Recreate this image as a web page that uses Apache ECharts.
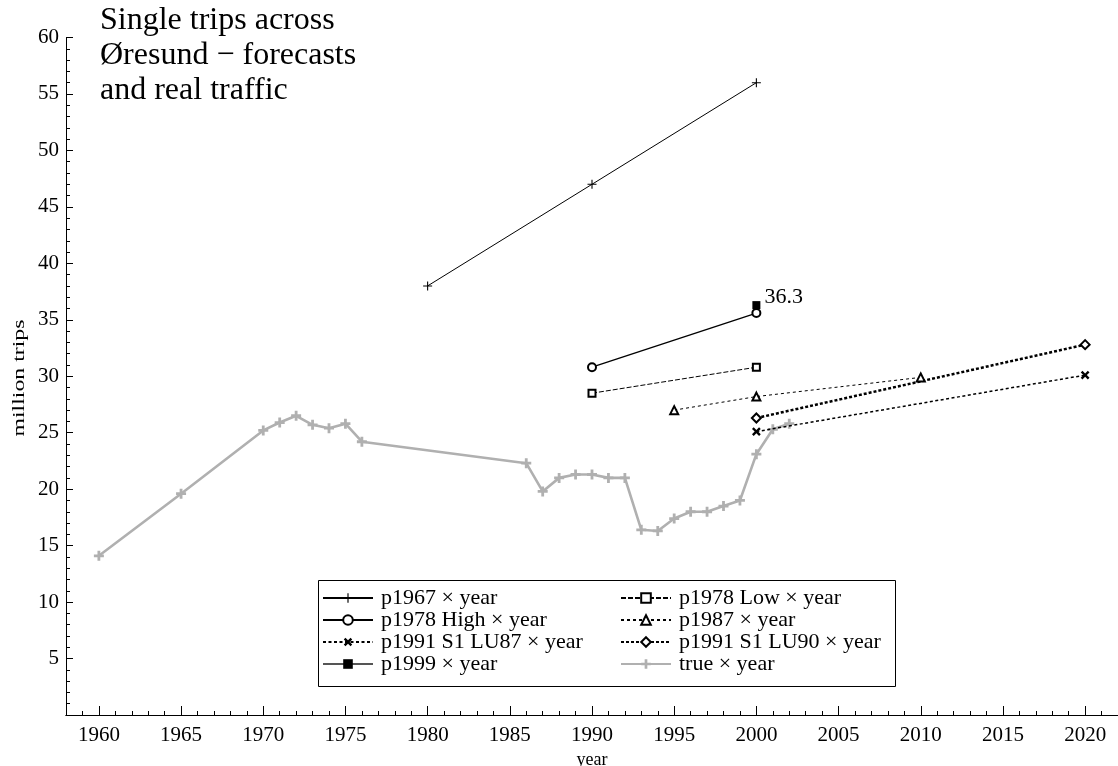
<!DOCTYPE html>
<html>
<head>
<meta charset="utf-8">
<script src="https://cdn.jsdelivr.net/npm/echarts@6/dist/echarts.min.js"></script>
<style>
html,body{margin:0;padding:0;background:#fff;}
#chart{width:1118px;height:766px;}
</style>
</head>
<body>
<div id="chart"></div>
<script>
// ---- data ----
const p1967Years = [1980, 1990, 2000];
const p1967Values = [38.0, 47.0, 56.0];
const p1978HighYears = [1990, 2000];
const p1978HighValues = [30.8, 35.6];
const p1978LowYears = [1990, 2000];
const p1978LowValues = [28.5, 30.8];
const p1987Years = [1995, 2000, 2010];
const p1987Values = [27.0, 28.2, 29.9];
const p1991LU87Years = [2000, 2020];
const p1991LU87Values = [25.1, 30.1];
const p1991LU90Years = [2000, 2020];
const p1991LU90Values = [26.3, 32.8];
const p1999Years = [2000];
const p1999Values = [36.3];
const trueYears = [1960, 1965, 1970, 1971, 1972, 1973, 1974, 1975, 1976, 1986, 1987, 1988, 1989, 1990, 1991, 1992, 1993, 1994, 1995, 1996, 1997, 1998, 1999, 2000, 2001, 2002];
const trueValues = [14.1, 19.6, 25.2, 25.9, 26.5, 25.7, 25.4, 25.8, 24.2, 22.3, 19.8, 21.0, 21.3, 21.3, 21.0, 21.0, 16.4, 16.3, 17.4, 18.0, 18.0, 18.5, 19.0, 23.1, 25.3, 25.8];
const xMajorTicks = [1960, 1965, 1970, 1975, 1980, 1985, 1990, 1995, 2000, 2005, 2010, 2015, 2020];
const titleLines = ['Single trips across', 'Øresund − forecasts', 'and real traffic'];
const yAxisTitle = 'million trips';
const xAxisTitle = 'year';
const names = {
  p1967: 'p1967 × year',
  high: 'p1978 High × year',
  low: 'p1978 Low × year',
  p1987: 'p1987 × year',
  lu87: 'p1991 S1 LU87 × year',
  lu90: 'p1991 S1 LU90 × year',
  p1999: 'p1999 × year',
  tru: 'true × year'
};

function pairs(xs, ys) { return xs.map((x, i) => [x, ys[i]]); }

const FONT = 'Liberation Serif';
const plusThin = 'path://M4.4,0H5.6V4.4H10V5.6H5.6V10H4.4V5.6H0V4.4H4.4Z';
const plusThick = 'path://M3.8,0H6.2V3.8H10V6.2H6.2V10H3.8V6.2H0V3.8H3.8Z';
const plusBold = 'path://M3.6,0H6.4V3.6H10V6.4H6.4V10H3.6V6.4H0V3.6H3.6Z';

const chart = echarts.init(document.getElementById('chart'), null, {renderer: 'canvas'});

const series = [
  {
    name: names.p1967, type: 'line', data: pairs(p1967Years, p1967Values),
    symbol: plusThin, symbolSize: 9,
    lineStyle: {color: '#000', width: 1}, itemStyle: {color: '#000'}
  },
  {
    name: names.high, type: 'line', data: pairs(p1978HighYears, p1978HighValues),
    symbol: 'emptyCircle', symbolSize: 8,
    lineStyle: {color: '#000', width: 1.3}, itemStyle: {color: '#000', borderWidth: 1}
  },
  {
    name: names.low, type: 'line', data: pairs(p1978LowYears, p1978LowValues),
    symbol: 'emptyRect', symbolSize: 7,
    lineStyle: {color: '#000', width: 1, type: [5, 2]}, itemStyle: {color: '#000', borderWidth: 1}
  },
  {
    name: names.p1987, type: 'line', data: pairs(p1987Years, p1987Values),
    symbol: 'emptyTriangle', symbolSize: 8,
    lineStyle: {color: '#000', width: 1, type: [3, 3]}, itemStyle: {color: '#000', borderWidth: 1}
  },
  {
    name: names.lu87, type: 'line', data: pairs(p1991LU87Years, p1991LU87Values),
    symbol: plusThick, symbolSize: 10, symbolRotate: 45,
    lineStyle: {color: '#000', width: 1.5, type: [3, 2.5]}, itemStyle: {color: '#000'}
  },
  {
    name: names.lu90, type: 'line', data: pairs(p1991LU90Years, p1991LU90Values),
    symbol: 'emptyDiamond', symbolSize: 9,
    lineStyle: {color: '#000', width: 2.5, type: [3, 2]}, itemStyle: {color: '#000', borderWidth: 2.5}
  },
  {
    name: names.p1999, type: 'line', data: pairs(p1999Years, p1999Values),
    symbol: 'rect', symbolSize: 8,
    lineStyle: {color: '#555', width: 1.8}, itemStyle: {color: '#000'},
    label: {
      show: true, position: 'right', distance: 4, offset: [0, -8],
      formatter: p => String(p.value[1]),
      fontFamily: FONT, fontSize: 22, color: '#000'
    }
  },
  {
    name: names.tru, type: 'line', data: pairs(trueYears, trueValues),
    symbol: plusBold, symbolSize: 10,
    lineStyle: {color: '#b0b0b0', width: 2.6}, itemStyle: {color: '#b0b0b0'},
    z: 1
  }
];

const legendCommon = {
  orient: 'vertical',
  itemWidth: 50, itemHeight: 12, itemGap: 0,
  textStyle: {fontFamily: FONT, fontSize: 22, lineHeight: 22, color: '#000', padding: [0, 0, 0, 3]},
  padding: 0,
  inactiveColor: '#000',
  selectedMode: false
};

chart.setOption({
  animation: false,
  backgroundColor: '#fff',
  grid: {left: 66, right: 0, top: 37.5, bottom: 51, containLabel: false, outerBoundsMode: 'none'},
  graphic: [
    {
      type: 'text', left: 100, top: 3,
      style: {text: titleLines.join('\n'), fontFamily: FONT, fontSize: 32, lineHeight: 35, fill: '#000'}
    },
    {
      type: 'text', x: 20, y: 378, rotation: Math.PI / 2, scaleX: 1.4,
      style: {text: yAxisTitle, fontFamily: FONT, fontSize: 17, fill: '#000', align: 'center', verticalAlign: 'middle'}
    },
    {
      type: 'rect', left: 316, top: 578, z: 0,
      shape: {width: 577, height: 106},
      style: {fill: 'none', stroke: '#000', lineWidth: 1}
    }
  ],
  legend: [
    Object.assign({}, legendCommon, {left: 322, top: 587, data: [names.p1967, names.high, names.lu87, names.p1999]}),
    Object.assign({}, legendCommon, {left: 620, top: 587, data: [names.low, names.p1987, names.lu90, names.tru]})
  ],
  xAxis: [
    {
      type: 'value', min: 1958, max: 2022, interval: 1, position: 'bottom',
      axisLine: {show: true, lineStyle: {color: '#000', width: 1}},
      axisTick: {show: true, inside: true, length: 4, lineStyle: {color: '#000'}},
      axisLabel: {show: false},
      splitLine: {show: false}
    },
    {
      type: 'value', min: 1958, max: 2022, position: 'bottom',
      name: xAxisTitle, nameLocation: 'middle', nameGap: 29,
      nameTextStyle: {fontFamily: FONT, fontSize: 18, color: '#000'},
      axisLine: {show: true, lineStyle: {color: '#000', width: 1}},
      axisTick: {show: true, inside: true, length: 9, customValues: xMajorTicks, lineStyle: {color: '#000'}},
      axisLabel: {show: true, customValues: xMajorTicks, margin: 10, fontFamily: FONT, fontSize: 21, color: '#000', formatter: v => String(v)},
      splitLine: {show: false}
    }
  ],
  yAxis: {
    type: 'value', min: 0, max: 60, interval: 5,
    axisLine: {show: true, lineStyle: {color: '#000', width: 1}},
    axisTick: {show: true, inside: true, length: 7, lineStyle: {color: '#000'}},
    minorTick: {show: true, splitNumber: 5, length: 4, lineStyle: {color: '#000'}},
    axisLabel: {margin: 7, fontFamily: FONT, fontSize: 21, color: '#000', formatter: v => v === 0 ? '' : String(v)},
    splitLine: {show: false}
  },
  series: series
});
</script>
</body>
</html>
